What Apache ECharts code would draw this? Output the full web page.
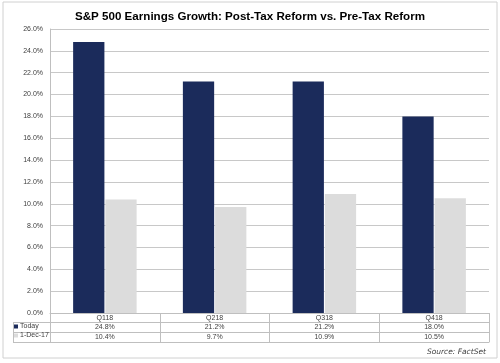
<!DOCTYPE html>
<html><head><meta charset="utf-8">
<script src="https://cdn.jsdelivr.net/npm/echarts@6/dist/echarts.min.js"></script>
<style>html,body{margin:0;padding:0;background:#fff}#c{width:500px;height:363px}</style>
</head><body><div id="c"></div>
<script>
const categories = ['Q118', 'Q218', 'Q318', 'Q418'];
const todayValues = [24.8, 21.2, 21.2, 18.0];
const dec17Values = [10.4, 9.7, 10.9, 10.5];
const seriesNames = ['Today', '1-Dec-17'];
const yTicks = [0, 26, 2];

const fmt = v => v.toFixed(1) + '%';
const lineC = '#bfbfbf';
const txtC = '#404040';
const F = 'Arial, "Liberation Sans", sans-serif';

const chart = echarts.init(document.getElementById('c'), null, {renderer: 'canvas'});
const baseX = {
  type: 'category', data: categories, position: 'bottom', gridIndex: 0,
  axisLine: {show: true, lineStyle: {color: lineC, width: 1}},
  axisTick: {show: false},
  splitLine: {show: false},
  axisLabel: {fontSize: 7, fontFamily: F, color: txtC, margin: 2}
};
chart.setOption({
  animation: false,
  title: {text: 'S&P 500 Earnings Growth: Post-Tax Reform vs. Pre-Tax Reform', left: 'center', top: 6,
    textStyle: {fontSize: 11.6, fontWeight: 'bold', fontFamily: F, color: '#000'}},
  grid: {left: 50, right: 11, top: 29, bottom: 50},
  legend: {
    orient: 'vertical', left: 14, top: 323, itemWidth: 4, itemHeight: 4, itemGap: 2,
    icon: 'rect', selectedMode: false,
    textStyle: {fontSize: 7, fontFamily: F, color: txtC, padding: [0,0,0,-3]},
    padding: 0,
    data: seriesNames
  },
  xAxis: [
    Object.assign({}, baseX, {
      offset: 0,
      axisTick: {show: true, length: 29, lineStyle: {color: lineC}, alignWithLabel: false},
      axisLabel: Object.assign({}, baseX.axisLabel, {formatter: v => v})
    }),
    Object.assign({}, baseX, {offset: 9, axisLabel: Object.assign({}, baseX.axisLabel, {formatter: (v, i) => fmt(todayValues[i])})}),
    Object.assign({}, baseX, {offset: 19, axisLabel: Object.assign({}, baseX.axisLabel, {formatter: (v, i) => fmt(dec17Values[i])})}),
    Object.assign({}, baseX, {offset: 29, axisLabel: {show: false}})
  ],
  yAxis: {
    type: 'value', min: yTicks[0], max: yTicks[1], interval: yTicks[2],
    axisLine: {show: true, lineStyle: {color: lineC}},
    axisTick: {show: false},
    splitLine: {show: true, lineStyle: {color: '#c8c8c8', width: 1}},
    axisLabel: {fontSize: 7, fontFamily: F, color: txtC, margin: 7, formatter: v => fmt(v)}
  },
  series: [
    {name: seriesNames[0], type: 'bar', data: todayValues, barWidth: '28.5%', barGap: '3%',
      itemStyle: {color: '#1b2b5b'}},
    {name: seriesNames[1], type: 'bar', data: dec17Values, barWidth: '28.5%',
      itemStyle: {color: '#dcdcdc'}}
  ],
  graphic: [
    {type: 'rect', shape: {x: 3, y: 2, width: 494, height: 356}, style: {fill: 'none', stroke: '#d0d0d0', lineWidth: 1}, silent: true, z: -1},
    {type: 'line', shape: {x1: 13, y1: 322.5, x2: 50, y2: 322.5}, style: {stroke: lineC}},
    {type: 'line', shape: {x1: 13, y1: 332.5, x2: 50, y2: 332.5}, style: {stroke: lineC}},
    {type: 'line', shape: {x1: 13, y1: 342.5, x2: 50, y2: 342.5}, style: {stroke: lineC}},
    {type: 'line', shape: {x1: 13.5, y1: 322.5, x2: 13.5, y2: 342.5}, style: {stroke: lineC}},
    {type: 'text', right: 14, top: 348, style: {text: 'Source: FactSet', font: 'italic 7.5px "DejaVu Sans", sans-serif', fill: '#404040'}}
  ]
});
</script></body></html>
